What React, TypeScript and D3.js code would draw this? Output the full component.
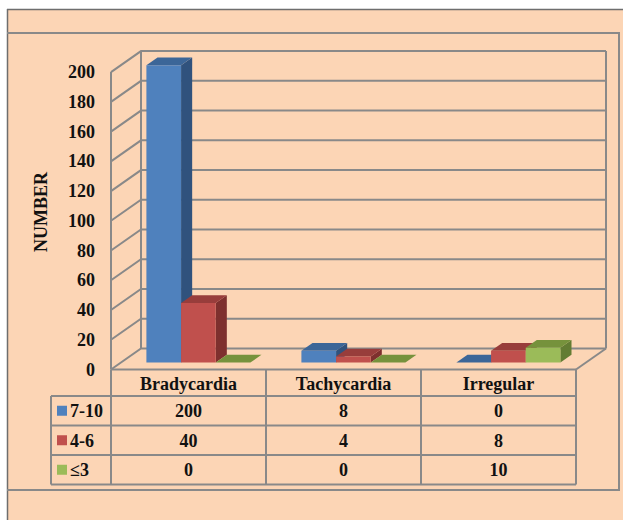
import React from "react";
import * as d3 from "d3";

const categories = ["Bradycardia", "Tachycardia", "Irregular"];
const seriesNames = ["7-10", "4-6", "≤3"];
const values710 = [200, 8, 0];
const values46 = [40, 4, 8];
const valuesLe3 = [0, 0, 10];
const yTicks = [0, 20, 40, 60, 80, 100, 120, 140, 160, 180, 200];
const yTitle = "NUMBER";

const seriesValues = [values710, values46, valuesLe3];
const seriesColors = [
  { front: "#4F81BD", top: "#3C6698", side: "#30527D" },
  { front: "#C0504D", top: "#983D3B", side: "#7E302E" },
  { front: "#9BBB59", top: "#76923C", side: "#637C33" },
];

const W = 623;
const H = 520;
const BG = "#FCD5B5";
const LINE = "#898989";
const FONT = "'Liberation Serif', 'Times New Roman', serif";

const X0 = 111;
const X1 = 576;
const DX = 30;
const DY = 21;
const Z_FRONT = 0.33;
const Z_BACK = 0.7;

const yFront = d3.scaleLinear().domain([0, 200]).range([369.5, 72.1]);
const catBand = d3.scaleBand<string>().domain(categories).range([X0, X1]);
const serBand = d3
  .scaleBand<string>()
  .domain(seriesNames)
  .range([25.5, 129.5]);

const P = (X: number, v: number, z: number): [number, number] => [
  X + DX * z,
  yFront(v) - DY * z,
];

const poly = (pts: [number, number][]) =>
  pts.map((p) => `${p[0].toFixed(2)},${p[1].toFixed(2)}`).join(" ");

// table geometry
const tableTop = yFront(0);
const rowLines = [396, 425.5, 455, 484.5];
const legendLeft = 51;

export default function App() {
  const bars: React.ReactNode[] = [];
  categories.forEach((cat, ci) => {
    seriesNames.forEach((s, si) => {
      const v = seriesValues[si][ci];
      const xa = (catBand(cat) as number) + (serBand(s) as number);
      const xb = xa + serBand.bandwidth();
      const c = seriesColors[si];
      const key = `${ci}-${si}`;
      const top = poly([
        P(xa, v, Z_FRONT),
        P(xb, v, Z_FRONT),
        P(xb, v, Z_BACK),
        P(xa, v, Z_BACK),
      ]);
      if (v === 0) {
        bars.push(<polygon key={key} points={top} fill={c.top} />);
        return;
      }
      const side = poly([
        P(xb, 0, Z_FRONT),
        P(xb, 0, Z_BACK),
        P(xb, v, Z_BACK),
        P(xb, v, Z_FRONT),
      ]);
      const front = poly([
        P(xa, 0, Z_FRONT),
        P(xb, 0, Z_FRONT),
        P(xb, v, Z_FRONT),
        P(xa, v, Z_FRONT),
      ]);
      bars.push(
        <g key={key}>
          <polygon points={side} fill={c.side} />
          <polygon points={top} fill={c.top} />
          <polygon points={front} fill={c.front} />
        </g>
      );
    });
  });

  const gridLines = yTicks.map((t) => {
    const a = P(X0, t, 0);
    const b = P(X0, t, 1);
    const c = P(X1, t, 1);
    return (
      <polyline
        key={t}
        points={poly([a, b, c])}
        fill="none"
        stroke={LINE}
        strokeWidth={2}
      />
    );
  });

  const colBounds = [X0, ...categories.map((c) => (catBand(c) as number) + catBand.bandwidth())];
  const rowsTop = [rowLines[0], rowLines[1], rowLines[2]];

  return (
    <svg
      width={W}
      height={H}
      style={{ position: "absolute", left: 0, top: 0, display: "block" }}
    >
      <rect x={0} y={0} width={W} height={H} fill="#FFFFFF" />
      <rect x={7} y={9} width={W - 7} height={H - 9} fill={BG} />
      <line x1={7} y1={9.5} x2={W} y2={9.5} stroke="#6E6E6E" strokeWidth={1.5} />
      <line x1={7.5} y1={9} x2={7.5} y2={H} stroke="#6E6E6E" strokeWidth={1.5} />
      {/* inner plot area frame */}
      <polyline
        points={poly([
          [7, 33],
          [619, 33],
          [619, 490],
          [7, 490],
        ])}
        fill="none"
        stroke={LINE}
        strokeWidth={2}
      />

      {/* walls */}
      {gridLines}
      <line x1={P(X0, 0, 0)[0]} y1={P(X0, 0, 0)[1]} x2={P(X0, 200, 0)[0]} y2={P(X0, 200, 0)[1]} stroke={LINE} strokeWidth={2} />
      <line x1={P(X0, 0, 1)[0]} y1={P(X0, 0, 1)[1]} x2={P(X0, 200, 1)[0]} y2={P(X0, 200, 1)[1]} stroke={LINE} strokeWidth={2} />
      <line x1={P(X1, 0, 1)[0]} y1={P(X1, 0, 1)[1]} x2={P(X1, 200, 1)[0]} y2={P(X1, 200, 1)[1]} stroke={LINE} strokeWidth={2} />
      <line x1={P(X0, 0, 0)[0]} y1={P(X0, 0, 0)[1]} x2={P(X1, 0, 0)[0]} y2={P(X1, 0, 0)[1]} stroke={LINE} strokeWidth={2} />
      <line x1={P(X1, 0, 0)[0]} y1={P(X1, 0, 0)[1]} x2={P(X1, 0, 1)[0]} y2={P(X1, 0, 1)[1]} stroke={LINE} strokeWidth={2} />

      {bars}

      {/* y tick labels */}
      {yTicks.map((t) => (
        <text
          key={t}
          x={95}
          y={yFront(t) + 6}
          textAnchor="end"
          fontFamily={FONT}
          fontWeight="bold"
          fontSize={18}
          fill="#111"
        >
          {t}
        </text>
      ))}
      <text
        transform="translate(46.5,212) rotate(-90)"
        textAnchor="middle"
        fontFamily={FONT}
        fontWeight="bold"
        fontSize={18}
        fill="#111"
      >
        {yTitle}
      </text>

      {/* data table */}
      <g stroke={LINE} strokeWidth={2} fill="none">
        {colBounds.map((x, i) => (
          <line key={`v${i}`} x1={x} y1={tableTop} x2={x} y2={rowLines[3]} />
        ))}
        <line x1={legendLeft} y1={rowLines[0]} x2={legendLeft} y2={rowLines[3]} />
        {rowLines.map((y, i) => (
          <line key={`h${i}`} x1={legendLeft} y1={y} x2={X1} y2={y} />
        ))}
      </g>
      {categories.map((c) => (
        <text
          key={c}
          x={(catBand(c) as number) + catBand.bandwidth() / 2}
          y={(tableTop + rowLines[0]) / 2 + 7}
          textAnchor="middle"
          fontFamily={FONT}
          fontWeight="bold"
          fontSize={18}
          fill="#111"
        >
          {c}
        </text>
      ))}
      {seriesNames.map((s, si) => {
        const y0 = rowsTop[si];
        const y1 = rowLines[si + 1];
        const cy = (y0 + y1) / 2;
        return (
          <g key={s}>
            <rect x={57} y={cy - 5} width={10} height={10} fill={seriesColors[si].front} />
            <text
              x={70}
              y={cy + 6.5}
              fontFamily={FONT}
              fontWeight="bold"
              fontSize={18}
              fill="#111"
            >
              {s}
            </text>
            {categories.map((c, ci) => (
              <text
                key={c}
                x={(catBand(c) as number) + catBand.bandwidth() / 2}
                y={cy + 6.5}
                textAnchor="middle"
                fontFamily={FONT}
                fontWeight="bold"
                fontSize={18}
                fill="#111"
              >
                {seriesValues[si][ci]}
              </text>
            ))}
          </g>
        );
      })}
    </svg>
  );
}
